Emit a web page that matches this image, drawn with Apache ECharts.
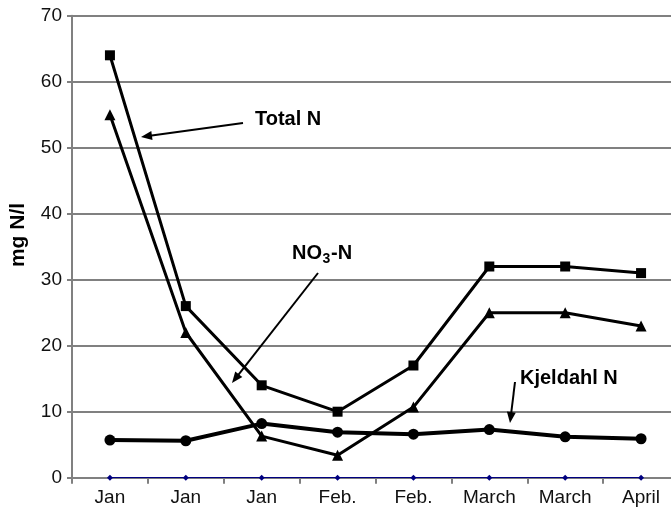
<!DOCTYPE html>
<html>
<head>
<meta charset="utf-8">
<script src="https://cdn.jsdelivr.net/npm/echarts@6/dist/echarts.min.js"></script>
<style>
html,body{margin:0;padding:0;background:#fff;}
#chart{width:671px;height:507px;}
</style>
</head>
<body>
<div id="chart"></div>
<script>
// ---- data ----
var categories = ['Jan', 'Jan', 'Jan', 'Feb.', 'Feb.', 'March', 'March', 'April'];
var totalN    = [64, 26, 14, 10, 17, 32, 32, 31];
var no3N      = [55, 22, 6.3, 3.4, 10.7, 25, 25, 23];
var kjeldahlN = [5.7, 5.6, 8.2, 6.9, 6.6, 7.3, 6.2, 5.9];
var baseline  = [0, 0, 0, 0, 0, 0, 0, 0];
var yTicks    = [0, 10, 20, 30, 40, 50, 60, 70];

var FONT = '"Liberation Sans", Arial, sans-serif';
var chart = echarts.init(document.getElementById('chart'), null, {renderer: 'canvas'});

function arrow(x1, y1, x2, y2) {
  var dx = x2 - x1, dy = y2 - y1, L = Math.sqrt(dx*dx + dy*dy);
  var ux = dx / L, uy = dy / L, hl = 11, hw = 4.5;
  var bx = x2 - ux*hl, by = y2 - uy*hl;
  return [
    {type: 'line', shape: {x1: x1, y1: y1, x2: bx + ux*2, y2: by + uy*2},
     style: {stroke: '#000', lineWidth: 2}, z: 100},
    {type: 'polygon', shape: {points: [[x2, y2], [bx - uy*hw, by + ux*hw], [bx + uy*hw, by - ux*hw]]},
     style: {fill: '#000'}, z: 100}
  ];
}
function label(text, x, y, size) {
  return {type: 'text', x: x, y: y, z: 100,
    style: {text: text, fill: '#000', font: 'bold ' + size + 'px ' + FONT,
            align: 'left', verticalAlign: 'middle'}};
}

var graphics = [].concat(
  arrow(243, 123, 141, 137),
  arrow(318, 273, 232, 383),
  arrow(515, 382, 510, 423),
  [
    label('Total N', 255, 119, 20),
    label('NO', 292, 253.5, 20),
    label('3', 322.5, 259.5, 14),
    label('-N', 331, 253.5, 20),
    label('Kjeldahl N', 520, 378.5, 20),
    {type: 'text', x: 18, y: 235, rotation: Math.PI/2, z: 100,
     style: {text: 'mg N/l', fill: '#000', font: 'bold 21px ' + FONT,
             align: 'center', verticalAlign: 'middle'}}
  ]
);

var option = {
  animation: false,
  backgroundColor: '#fff',
  grid: {left: 72, top: 15.7, width: 607, height: 462, outerBoundsMode: 'none', containLabel: false},
  xAxis: {
    type: 'category',
    data: categories,
    boundaryGap: true,
    axisLine: {show: true, lineStyle: {color: '#808080', width: 2}},
    axisTick: {show: true, length: 6, inside: false, lineStyle: {color: '#808080', width: 2}},
    axisLabel: {color: '#111', fontFamily: FONT, fontSize: 19, margin: 11, interval: 0},
    splitLine: {show: false}
  },
  yAxis: {
    type: 'value',
    min: yTicks[0],
    max: yTicks[yTicks.length - 1],
    interval: 10,
    axisLine: {show: true, lineStyle: {color: '#808080', width: 2}},
    axisTick: {show: true, length: 5, inside: false, lineStyle: {color: '#808080', width: 2}},
    axisLabel: {color: '#111', fontFamily: FONT, fontSize: 19, margin: 10},
    splitLine: {show: true, lineStyle: {color: '#808080', width: 2}}
  },
  series: [
    {name: 'Base', type: 'line', data: baseline, symbol: 'diamond', symbolSize: 6,
     lineStyle: {color: '#000080', width: 1.2}, itemStyle: {color: '#000080'}, z: 3},
    {name: 'Total N', type: 'line', data: totalN, symbol: 'rect', symbolSize: 10,
     lineStyle: {color: '#000', width: 3}, itemStyle: {color: '#000'}, z: 4},
    {name: 'NO3-N', type: 'line', data: no3N, symbol: 'triangle', symbolSize: 11,
     lineStyle: {color: '#000', width: 3}, itemStyle: {color: '#000'}, z: 4},
    {name: 'Kjeldahl N', type: 'line', data: kjeldahlN, symbol: 'circle', symbolSize: 11,
     lineStyle: {color: '#000', width: 4}, itemStyle: {color: '#000'}, z: 4}
  ],
  graphic: graphics
};
chart.setOption(option);
</script>
</body>
</html>
